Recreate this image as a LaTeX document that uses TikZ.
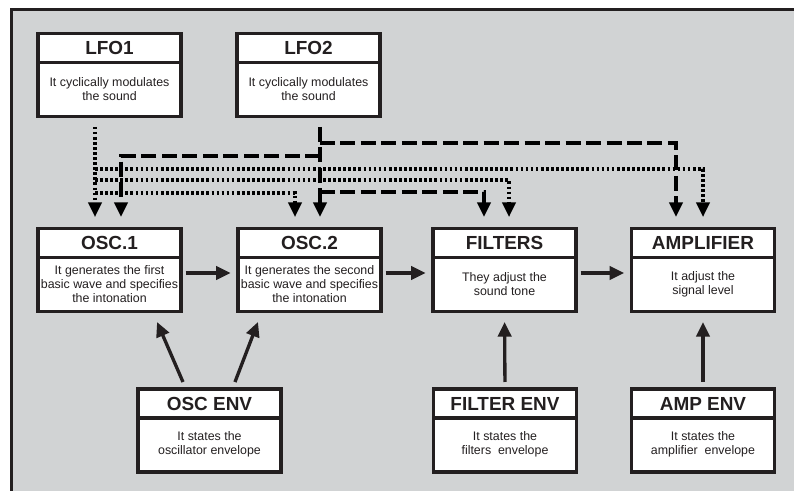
\documentclass[tikz,border=0pt]{standalone}
\usepackage{fontspec}
\setmainfont{Liberation Sans}
\usetikzlibrary{arrows.meta,calc}
\definecolor{ink}{HTML}{231F20}
\definecolor{bg}{HTML}{D1D3D4}
\newcommand\blk[5]{%
  \node[box] (#1) at (#2,#3) {};
  \draw[ink, line width=2.6pt] ($(#1.north west)+(0,29)$) -- ($(#1.north east)+(0,29)$);
  \node[ttl] (#1-t) at ($(#1.north)+(0,14.6)$) {#4};
  \node[bdy] (#1-b) at ($(#1.north)+(0,55.5)$) {#5};
}
\begin{document}
\begin{tikzpicture}[x=0.75pt,y=-0.75pt,
  box/.style={draw=ink, line width=2.6pt, fill=white, minimum width={143*0.75pt}, minimum height={83*0.75pt}, inner sep=0pt, outer sep=0pt},
  ttl/.style={font=\bfseries\fontsize{14.2}{16}\selectfont, text=ink, inner sep=0pt},
  bdy/.style={font=\fontsize{9.3}{10.3}\selectfont, align=center, text=ink, inner sep=0pt},
  tip/.style={-{Triangle[width=10pt,length=11pt]}},
  dsh/.style={draw=black, line width=2.5pt, dash pattern=on 11.25pt off 4.1pt, tip},
  dotline/.style={draw=black, line width=2.4pt, dash pattern=on 2pt off 1.8pt, tip},
  flow/.style={draw=ink, line width=2.5pt, tip}]
\useasboundingbox (0,0) rectangle (794,491);
\clip (0,0) rectangle (794,491);
\draw[ink, line width=2.25pt, fill=bg] (11.5,9.5) rectangle (820,520);

\blk{lfo1}{109.5}{75}{LFO1}{It cyclically modulates\\the sound}
\blk{lfo2}{308.5}{75}{LFO2}{It cyclically modulates\\the sound}
\blk{osc1}{109.5}{270}{OSC.1}{It generates the first\\basic wave and specifies\\the intonation}
\blk{osc2}{309.5}{270}{OSC.2}{It generates the second\\basic wave and specifies\\the intonation}
\blk{filters}{504.5}{270}{FILTERS}{They adjust the\\sound tone}
\blk{amp}{703}{270}{AMPLIFIER}{It adjust the\\signal level}
\blk{oscenv}{209.5}{430.5}{OSC ENV}{It states the\\oscillator envelope}
\blk{filterenv}{505}{430.5}{FILTER ENV}{It states the\\filters~ envelope}
\blk{ampenv}{703}{430.5}{AMP ENV}{It states the\\amplifier~ envelope}

% columns and rows
\coordinate (x95) at (95,0);
\coordinate (x121) at (121,0);
\coordinate (x295) at (295,0);
\coordinate (x320) at (320,0);
\coordinate (x484) at (484,0);
\coordinate (x509) at (509,0);
\coordinate (x676) at (676,0);
\coordinate (x703) at (703,0);
\coordinate (r143) at (0,143);
\coordinate (r156) at (0,156);
\coordinate (r169) at (0,169);
\coordinate (r180) at (0,180);
\coordinate (r192) at (0,192);
\coordinate (r193) at (0,193);
\coordinate (r273) at (0,273);
\coordinate (xa) at (186,0);
\coordinate (xb) at (152.5,0);
\coordinate (xc) at (232.3,0);
\coordinate (xd) at (262,0);

% LFO1 (dotted)
\draw[dotline, shorten <=7.7pt, shorten >=8.6pt] (lfo1.south -| x95) -- (osc1.north -| x95);
\draw[dotline, shorten >=8.6pt] (x95 |- r169) -| (amp.north -| x703);
\draw[dotline, shorten >=8.6pt] (x95 |- r180) -| (filters.north -| x509);
\draw[dotline, shorten >=8.6pt] (x95 |- r193) -| (osc2.north -| x295);

% LFO2 (dashed)
\draw[dsh, shorten <=7.7pt, shorten >=8.6pt] (lfo2.south -| x320) -- (osc2.north -| x320);
\draw[dsh, shorten >=8.6pt] (x320 |- r143) -| (amp.north -| x676);
\draw[dsh, shorten >=8.6pt] (x320 |- r156) -| (osc1.north -| x121);
\draw[dsh, shorten >=8.6pt] (x320 |- r192) -| (filters.north -| x484);

% signal flow
\draw[flow, shorten <=3.5pt, shorten >=5.5pt] (osc1.east |- r273) -- (osc2.west |- r273);
\draw[flow, shorten <=3.5pt, shorten >=5.5pt] (osc2.east |- r273) -- (filters.west |- r273);
\draw[flow, shorten <=3.5pt, shorten >=5.5pt] (filters.east |- r273) -- (amp.west |- r273);

% envelopes
\draw[flow, shorten <=5.7pt, shorten >=8.6pt] (oscenv.north -| xa) -- (osc1.south -| xb);
\draw[flow, shorten <=5.6pt, shorten >=8.4pt] (oscenv.north -| xc) -- (osc2.south -| xd);
\draw[flow, shorten <=5.25pt, shorten >=7.9pt] (filterenv.north) -- (filters.south);
\draw[flow, shorten <=5.25pt, shorten >=7.9pt] (ampenv.north) -- (amp.south);
\end{tikzpicture}
\end{document}
